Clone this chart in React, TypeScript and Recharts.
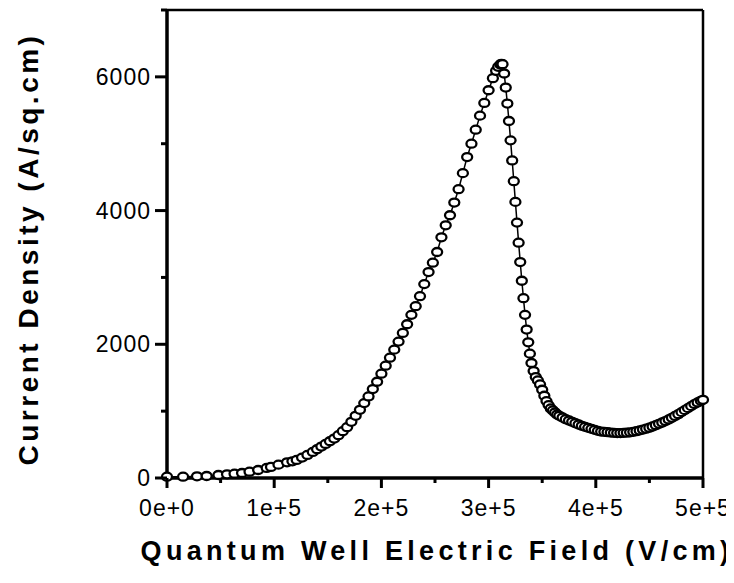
import { Label, Line, LineChart, ReferenceLine, XAxis, YAxis } from "recharts";

// electric field (V/cm)
const fieldValues = [
  0, 15000, 28000, 37000, 48000, 56000, 63000, 70000, 77000, 85000, 93000, 97000, 104000, 112000, 117000, 121000,
  126000, 131000, 136000, 140000, 144000, 148000, 152000, 156000, 160000, 164000, 168000, 172000, 176000, 180000,
  184000, 188000, 192000, 196000, 200000, 204000, 208000, 212000, 216000, 220000, 224000, 228000, 232000, 236000,
  240000, 244000, 248000, 252000, 256000, 260000, 264000, 268000, 272000, 276000, 280000, 284000, 288000, 292000,
  296000, 300000, 304000, 307000, 309000, 311000, 312000, 313000,
  314500, 316000, 317500, 319000, 320500, 322000, 323500, 325000, 326500, 328000, 329500, 331000, 332500, 334000,
  335500, 337000, 338500, 340000, 342000, 344000, 346000, 348000, 350000, 352000, 354000, 356000, 358000, 360000,
  362000, 364000, 366000, 369000, 372000, 375000, 378000, 381000, 384000, 387000, 390000, 393000, 396000, 399000,
  402000, 405000, 408000, 411000, 414000, 417000, 420000, 423000, 426000, 429000, 432000, 435000, 438000, 441000,
  444000, 447000, 450000, 453000, 456000, 459000, 462000, 465000, 468000, 471000, 474000, 477000, 480000, 483000,
  486000, 489000, 492000, 495000, 498000, 500000,
];

// current density (A/sq.cm)
const currentValues = [
  20, 20, 25, 30, 45, 55, 65, 75, 95, 120, 150, 165, 200, 235, 250, 270,
  305, 345, 390, 430, 470, 510, 550, 590, 640, 700, 760, 840, 930, 1020,
  1120, 1220, 1330, 1440, 1560, 1680, 1800, 1920, 2040, 2170, 2300, 2440, 2570, 2720,
  2900, 3080, 3220, 3380, 3600, 3780, 3930, 4120, 4320, 4560, 4800, 5000, 5210, 5420,
  5610, 5800, 5980, 6090, 6150, 6185, 6195, 6190,
  6050, 5840, 5600, 5340, 5050, 4750, 4440, 4130, 3820, 3520, 3230, 2950, 2690, 2440,
  2220, 2030, 1860, 1720, 1600, 1510, 1460, 1400, 1320, 1230, 1150, 1090, 1040, 1010,
  980, 950, 930, 905, 880, 860, 840, 820, 800, 780, 765, 750, 735, 720,
  705, 695, 690, 685, 680, 675, 672, 672, 675, 678, 683, 690, 700, 712,
  725, 738, 752, 770, 790, 810, 830, 852, 875, 900, 928, 955, 985, 1015,
  1045, 1075, 1105, 1130, 1155, 1170,
];

const xTicks = [0, 50000, 100000, 150000, 200000, 250000, 300000, 350000, 400000, 450000, 500000];
const yTicks = [0, 1000, 2000, 3000, 4000, 5000, 6000, 7000];

const points = fieldValues.map((field, i) => ({ field, current: currentValues[i] }));

const FONT = "'Liberation Sans', Arial, sans-serif";

function XTick({ x, y, payload }: any) {
  const v = payload.value as number;
  const major = v % 100000 === 0;
  return (
    <g>
      <line x1={x} x2={x} y1={y} y2={y + (major ? 10 : 5)} stroke="#000" strokeWidth={3} />
      {major && (
        <text x={x} y={y + 38} textAnchor="middle" fontFamily={FONT} fontSize={23} fill="#000" style={{ letterSpacing: 1 }}>
          {`${v / 100000}e+${v === 0 ? 0 : 5}`}
        </text>
      )}
    </g>
  );
}

function YTick({ x, y, payload }: any) {
  const v = payload.value as number;
  const major = v % 2000 === 0;
  return (
    <g>
      <line x1={x} x2={x - (major ? 12 : 6)} y1={y} y2={y} stroke="#000" strokeWidth={3} />
      {major && (
        <text x={x - 16} y={y + 8} textAnchor="end" fontFamily={FONT} fontSize={23} fill="#000" style={{ letterSpacing: 1 }}>
          {v}
        </text>
      )}
    </g>
  );
}

function Dot({ cx, cy, index }: any) {
  return <ellipse key={index} cx={cx} cy={cy} rx={5} ry={4} fill="#fff" stroke="#000" strokeWidth={2.3} />;
}

export default function App() {
  return (
    <LineChart width={726} height={575} data={points} margin={{ top: 2, right: 31, bottom: 0, left: 0 }}>
      <XAxis
        dataKey="field"
        type="number"
        domain={[0, 500000]}
        ticks={xTicks}
        tick={<XTick />}
        tickSize={0}
        tickMargin={0}
        tickLine={false}
        stroke="#000"
        strokeWidth={3}
        axisLine={{ stroke: "#000", strokeWidth: 3.5 }}
        height={105}
        interval={0}
      >
        <Label
          content={() => (
            <text x={429} y={552} textAnchor="middle" fontFamily={FONT} fontWeight="bold" fontSize={27} fill="#000" style={{ letterSpacing: 4.3 }}>
              Quantum Well Electric Field (V/cm)
            </text>
          )}
        />
      </XAxis>
      <YAxis
        type="number"
        domain={[0, 7000]}
        ticks={yTicks}
        tick={<YTick />}
        tickSize={0}
        tickMargin={0}
        tickLine={false}
        stroke="#000"
        strokeWidth={3}
        axisLine={{ stroke: "#000", strokeWidth: 3.5 }}
        width={159}
        interval={0}
      >
        <Label
          content={() => (
            <text
              x={0}
              y={0}
              transform="translate(30 241) rotate(-90)"
              textAnchor="middle"
              fontFamily={FONT}
              fontWeight="bold"
              fontSize={28}
              fill="#000"
              style={{ letterSpacing: 3.5 }}
            >
              Current Density (A/sq.cm)
            </text>
          )}
        />
      </YAxis>
      <ReferenceLine y={7000} stroke="#000" strokeWidth={2.5} />
      <ReferenceLine x={500000} stroke="#000" strokeWidth={2.5} />
      <Line
        dataKey="current"
        type="linear"
        stroke="#000"
        strokeWidth={1.5}
        dot={<Dot />}
        activeDot={false}
        isAnimationActive={false}
      />
    </LineChart>
  );
}
